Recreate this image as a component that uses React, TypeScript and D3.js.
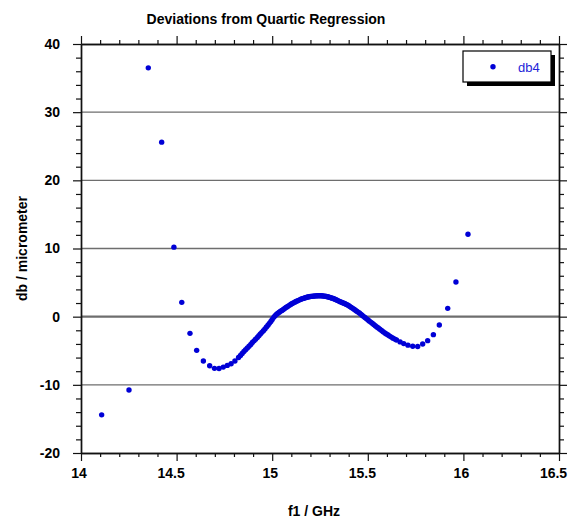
import React, { useEffect, useRef } from "react";
import * as d3 from "d3";

// Frequency points (GHz) of the db4 series
const freqGHz: number[] = [
  14.108, 14.251, 14.352, 14.422, 14.486, 14.527, 14.570, 14.605, 14.640, 14.673,
  14.698, 14.722, 14.744, 14.765, 14.785, 14.805,
  14.824, 14.834, 14.843, 14.852, 14.861, 14.870, 14.879, 14.888, 14.896, 14.905,
  14.913, 14.922,
  14.930, 14.938, 14.946, 14.954, 14.962, 14.970, 14.978, 14.985, 14.993, 15.000,
  15.008, 15.015, 15.023, 15.030, 15.037, 15.044, 15.051, 15.058, 15.065, 15.072,
  15.079, 15.085, 15.092, 15.098, 15.105, 15.111, 15.118, 15.124, 15.131, 15.137,
  15.144, 15.150, 15.157, 15.163, 15.169, 15.175, 15.181, 15.187, 15.193, 15.199,
  15.205, 15.211, 15.217, 15.223, 15.229, 15.235, 15.241, 15.247, 15.253, 15.259,
  15.265, 15.271, 15.277, 15.283, 15.289, 15.295, 15.301, 15.307, 15.313, 15.319,
  15.325, 15.331, 15.337, 15.343, 15.349, 15.355, 15.362, 15.368, 15.375, 15.381,
  15.388, 15.394, 15.401, 15.407, 15.414, 15.421, 15.428, 15.435, 15.442, 15.449,
  15.456, 15.463, 15.470, 15.477, 15.485, 15.492, 15.500, 15.507, 15.515, 15.523,
  15.531, 15.539, 15.547, 15.555,
  15.563, 15.572, 15.580, 15.589, 15.597, 15.606, 15.614, 15.623, 15.632, 15.641,
  15.650, 15.669, 15.688, 15.710, 15.735, 15.761,
  15.787, 15.813, 15.843, 15.874, 15.918, 15.961, 16.024,
];

// Residuals (micrometer) at each frequency point
const db4: number[] = [
  -14.4, -10.75, 36.5, 25.6, 10.2, 2.1, -2.45, -4.94, -6.5, -7.2,
  -7.58, -7.6, -7.4, -7.15, -6.9, -6.5,
  -6.0, -5.7, -5.4, -5.12, -4.85, -4.6, -4.35, -4.07, -3.8, -3.55,
  -3.3, -3.05,
  -2.8, -2.55, -2.3, -2.05, -1.8, -1.52, -1.25, -0.98, -0.7, -0.4,
  -0.1, 0.13, 0.35, 0.5, 0.65, 0.79, 0.92, 1.06, 1.2, 1.34,
  1.47, 1.59, 1.7, 1.82, 1.93, 2.03, 2.13, 2.22, 2.31, 2.39,
  2.47, 2.55, 2.62, 2.68, 2.74, 2.79, 2.84, 2.88, 2.92, 2.95,
  2.98, 3.0, 3.02, 3.04, 3.05, 3.06, 3.07, 3.07, 3.07, 3.06,
  3.04, 3.02, 2.99, 2.96, 2.92, 2.88, 2.83, 2.78, 2.72, 2.66,
  2.59, 2.52, 2.44, 2.36, 2.28, 2.2, 2.12, 2.05, 1.97, 1.89,
  1.8, 1.71, 1.6, 1.48, 1.35, 1.22, 1.08, 0.95, 0.81, 0.67,
  0.53, 0.38, 0.22, 0.05, -0.12, -0.28, -0.45, -0.62, -0.8, -0.97,
  -1.15, -1.32, -1.5, -1.67,
  -1.85, -2.03, -2.2, -2.38, -2.55, -2.7, -2.85, -3.0, -3.15, -3.29,
  -3.42, -3.7, -3.95, -4.18, -4.35, -4.38,
  -4.0, -3.52, -2.64, -1.22, 1.22, 5.09, 12.1,
];

const xMajorTicks: number[] = [14, 14.5, 15, 15.5, 16, 16.5];
const xMinorTicks: number[] = [
  14.1, 14.2, 14.3, 14.4, 14.6, 14.7, 14.8, 14.9, 15.1, 15.2, 15.3, 15.4,
  15.6, 15.7, 15.8, 15.9, 16.1, 16.2, 16.3, 16.4,
];
const yMajorTicks: number[] = [-20, -10, 0, 10, 20, 30, 40];
const yMinorTicks: number[] = [
  -18, -16, -14, -12, -8, -6, -4, -2, 2, 4, 6, 8, 12, 14, 16, 18,
  22, 24, 26, 28, 32, 34, 36, 38,
];
const gridValues: number[] = [-10, 10, 20, 30];

const titleText = "Deviations from Quartic Regression";
const xLabel = "f1 / GHz";
const yLabel = "db / micrometer";
const seriesName = "db4";

const W = 570;
const H = 524;
const M = { left: 81, right: 559, top: 44, bottom: 453 };
const FONT = "'Liberation Sans', Arial, Helvetica, sans-serif";
const DOT = "#0000d6";

export default function App() {
  const ref = useRef<SVGSVGElement | null>(null);

  useEffect(() => {
    document.body.style.margin = "0";
    const svg = d3.select(ref.current);
    svg.selectAll("*").remove();

    const x = d3.scaleLinear().domain([14, 16.5]).range([M.left, M.right]);
    const y = d3.scaleLinear().domain([-20, 40]).range([M.bottom, M.top]);

    svg.append("rect").attr("width", W).attr("height", H).attr("fill", "#fff");

    // horizontal grid
    svg
      .append("g")
      .selectAll("line")
      .data(gridValues)
      .join("line")
      .attr("x1", M.left)
      .attr("x2", M.right)
      .attr("y1", (d) => y(d))
      .attr("y2", (d) => y(d))
      .attr("stroke", "#6e6e6e")
      .attr("stroke-width", 1.4);
    svg
      .append("line")
      .attr("x1", M.left)
      .attr("x2", M.right)
      .attr("y1", y(0))
      .attr("y2", y(0))
      .attr("stroke", "#6e6e6e")
      .attr("stroke-width", 2.3);

    const styleAxis = (g: d3.Selection<SVGGElement, unknown, null, undefined>) => {
      g.select(".domain").attr("stroke", "#111").attr("stroke-width", 1.4);
      g.selectAll(".tick line").attr("stroke", "#111").attr("stroke-width", 1.2);
      g.selectAll(".tick text")
        .attr("fill", "#000")
        .attr("font-family", FONT)
        .attr("font-size", 14)
        .attr("font-weight", "bold");
    };

    const fmt = (d: d3.NumberValue) => String(d);

    // minor ticks
    const gxb2 = svg.append("g").attr("transform", `translate(0,${M.bottom})`)
      .call(d3.axisBottom(x).tickValues(xMinorTicks).tickSize(4).tickSizeOuter(0).tickFormat(() => ""));
    styleAxis(gxb2);
    const gxt2 = svg.append("g").attr("transform", `translate(0,${M.top})`)
      .call(d3.axisTop(x).tickValues(xMinorTicks).tickSize(4).tickSizeOuter(0).tickFormat(() => ""));
    styleAxis(gxt2);
    const gyl2 = svg.append("g").attr("transform", `translate(${M.left},0)`)
      .call(d3.axisLeft(y).tickValues(yMinorTicks).tickSize(5).tickSizeOuter(0).tickFormat(() => ""));
    styleAxis(gyl2);
    const gyr2 = svg.append("g").attr("transform", `translate(${M.right},0)`)
      .call(d3.axisRight(y).tickValues(yMinorTicks).tickSize(5).tickSizeOuter(0).tickFormat(() => ""));
    styleAxis(gyr2);

    // major ticks
    const gxb = svg.append("g").attr("transform", `translate(0,${M.bottom})`)
      .call(d3.axisBottom(x).tickValues(xMajorTicks).tickSize(8).tickSizeOuter(0).tickPadding(7).tickFormat(fmt));
    styleAxis(gxb);
    // decimal labels sit a little left of their ticks
    gxb.selectAll<SVGTextElement, number>(".tick text")
      .attr("dx", (d) => (Number.isInteger(d) ? -2.5 : -6));
    const gxt = svg.append("g").attr("transform", `translate(0,${M.top})`)
      .call(d3.axisTop(x).tickValues(xMajorTicks).tickSize(8).tickSizeOuter(0).tickFormat(() => ""));
    styleAxis(gxt);
    const gyl = svg.append("g").attr("transform", `translate(${M.left},0)`)
      .call(d3.axisLeft(y).tickValues(yMajorTicks).tickSize(8).tickSizeOuter(0).tickPadding(13).tickFormat(fmt));
    styleAxis(gyl);
    const gyr = svg.append("g").attr("transform", `translate(${M.right},0)`)
      .call(d3.axisRight(y).tickValues(yMajorTicks).tickSize(8).tickSizeOuter(0).tickFormat(() => ""));
    styleAxis(gyr);

    // data
    const pts = freqGHz.map((f, i) => ({ f, v: db4[i] }));
    svg
      .append("g")
      .selectAll("circle")
      .data(pts)
      .join("circle")
      .attr("cx", (d) => x(d.f))
      .attr("cy", (d) => y(d.v))
      .attr("r", 2.7)
      .attr("fill", DOT);

    // legend with drop shadow
    const lg = svg.append("g").attr("transform", "translate(463,51)");
    lg.append("rect").attr("x", 4).attr("y", 4).attr("width", 88).attr("height", 31).attr("fill", "#000");
    lg.append("rect").attr("x", 0).attr("y", 0).attr("width", 88).attr("height", 31)
      .attr("fill", "#fff").attr("stroke", "#000").attr("stroke-width", 1.2);
    lg.append("circle").attr("cx", 30).attr("cy", 15.7).attr("r", 2.7).attr("fill", DOT);
    lg.append("text").attr("x", 55).attr("y", 20.5)
      .attr("font-family", FONT).attr("font-size", 13).attr("fill", "#2323d8")
      .text(seriesName);

    // title and axis labels
    svg.append("text").attr("x", 266).attr("y", 23.5).attr("text-anchor", "middle")
      .attr("font-family", FONT).attr("font-size", 14).attr("font-weight", "bold")
      .text(titleText);
    svg.append("text").attr("x", 314).attr("y", 516).attr("text-anchor", "middle")
      .attr("font-family", FONT).attr("font-size", 14).attr("font-weight", "bold")
      .text(xLabel);
    svg.append("text")
      .attr("transform", `translate(27,${(M.top + M.bottom) / 2}) rotate(-90)`)
      .attr("text-anchor", "middle")
      .attr("font-family", FONT).attr("font-size", 14).attr("font-weight", "bold")
      .text(yLabel);
  }, []);

  return (
    <div style={{ position: "absolute", left: 0, top: 0 }}>
      <svg ref={ref} width={W} height={H} style={{ display: "block" }} />
    </div>
  );
}
